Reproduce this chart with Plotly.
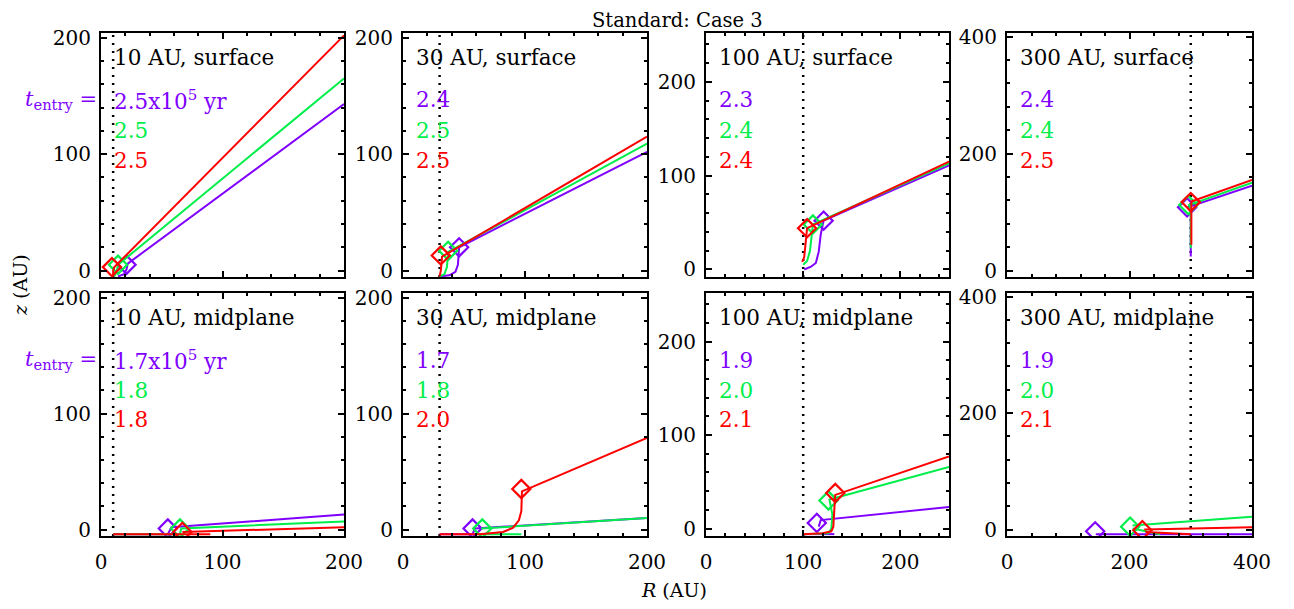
import plotly.graph_objects as go

# ---------------- data ----------------
R_ENTRY = [10, 30, 100, 300]

TITLES_SURF = ["10 AU, surface", "30 AU, surface", "100 AU, surface", "300 AU, surface"]
TITLES_MID = ["10 AU, midplane", "30 AU, midplane", "100 AU, midplane", "300 AU, midplane"]

T_SURF_PURPLE = ["2.5x10<sup>5</sup> yr", "2.4", "2.3", "2.4"]
T_SURF_GREEN = ["2.5", "2.5", "2.4", "2.4"]
T_SURF_RED = ["2.5", "2.5", "2.4", "2.5"]
T_MID_PURPLE = ["1.7x10<sup>5</sup> yr", "1.7", "1.9", "1.9"]
T_MID_GREEN = ["1.8", "1.8", "2.0", "2.0"]
T_MID_RED = ["1.8", "2.0", "2.1", "2.1"]

# surface, 10 AU
s10_pu_R = [14, 19, 21, 22, 200]
s10_pu_z = [-5, -3, 1, 6, 143]
s10_pu_d = [21, 5]
s10_gr_R = [11, 13, 14, 200]
s10_gr_z = [-5, 0, 5, 165]
s10_gr_d = [14, 5]
s10_re_R = [10, 10, 11, 200]
s10_re_z = [-5, 0, 3, 202]
s10_re_d = [9, 3]

# surface, 30 AU
s30_pu_R = [30, 38, 43, 45, 46, 200]
s30_pu_z = [-5, -4, -1, 5, 20, 102]
s30_pu_d = [46, 20]
s30_gr_R = [30, 34, 36, 37, 200]
s30_gr_z = [-5, -3, 3, 16, 109]
s30_gr_d = [37, 17]
s30_re_R = [30, 31, 32, 200]
s30_re_z = [-5, 0, 12, 115]
s30_re_d = [31, 13]

# surface, 100 AU
s100_pu_R = [101, 108, 113, 116, 118, 121, 250]
s100_pu_z = [0, 3, 7, 19, 37, 52, 111]
s100_pu_d = [121, 52]
s100_gr_R = [100, 104, 107, 109, 110, 250]
s100_gr_z = [5, 9, 20, 40, 48, 113]
s100_gr_d = [110, 48]
s100_re_R = [99, 101, 102, 104, 250]
s100_re_z = [8, 13, 23, 44, 115]
s100_re_d = [104, 44]

# surface, 300 AU
s300_pu_R = [300, 300, 295, 400]
s300_pu_z = [24, 100, 108, 145]
s300_pu_d = [294, 108]
s300_gr_R = [300, 300, 297, 400]
s300_gr_z = [38, 102, 112, 150]
s300_gr_d = [296, 112]
s300_re_R = [301, 301, 301, 400]
s300_re_z = [44, 105, 118, 155]
s300_re_d = [300, 117]

# midplane, 10 AU
m10_pu_R = [10, 55, 58, 200]
m10_pu_z = [-4, -4, 2, 13]
m10_pu_d = [55, 1]
m10_gr_R = [10, 65, 66, 200]
m10_gr_z = [-4, -4, 1, 7]
m10_gr_d = [65, 1]
m10_re_R = [10, 90, None, 67, 200]
m10_re_z = [-4, -4, None, -2, 2]
m10_re_d = [67, -2]

# midplane, 30 AU
m30_pu_R = [30, 57, 59, 200]
m30_pu_z = [-4, -4, 1, 10]
m30_pu_d = [57, 1]
m30_gr_R = [62, 97, None, 64, 200]
m30_gr_z = [-4, -4, None, 1, 10]
m30_gr_d = [65, 1]
m30_re_R = [30, 63, 82, 90, 95, 97, 97.5, 200]
m30_re_z = [-4, -4, -2, 1.5, 8, 16, 33, 79]
m30_re_d = [97, 35]

# midplane, 100 AU
m100_pu_R = [100, 132, None, 116, 118, 250]
m100_pu_z = [-6, -6, None, 2, 9, 23]
m100_pu_d = [114, 6]
m100_gr_R = [100, 126, 129, 130, 127, 250]
m100_gr_z = [-6, -5, 0, 15, 31, 66]
m100_gr_d = [126, 30]
m100_re_R = [100, 120, 129, 131, 132, 133, 250]
m100_re_z = [-6, -5, -3, 2, 20, 36, 77]
m100_re_d = [133, 38]

# midplane, 300 AU
m300_pu_R = [145, 400]
m300_pu_z = [-8, -8]
m300_pu_d = [144, -3]
m300_gr_R = [250, 205, None, 205, 400]
m300_gr_z = [-8, 2, None, 7, 22]
m300_gr_d = [201, 5]
m300_re_R = [300, 226, None, 224, 400]
m300_re_z = [-8, -4, None, 0, 4]
m300_re_d = [221, -1]

X_RANGES = [[0, 200], [0, 200], [0, 250], [0, 400]]
Y_RANGES = [[-5.5, 204], [-5.5, 204], [-8, 252], [-11, 406]]
TICKS = [[0, 100, 200], [0, 100, 200], [0, 100, 200], [0, 200, 400]]
MINOR = [20, 20, 20, 40]

# ---------------- layout helpers ----------------
OFF = 8  # page body margin
W, H = 1294 - OFF, 609 - OFF
PANEL_X = [(101, 344), (403, 647), (706, 949), (1007, 1252)]
ROW_Y = [(33, 277), (293, 536)]
PURPLE, GREEN, RED = "#8000ff", "#00ee4a", "#ff0000"
FONT = "DejaVu Serif"


def px(p):
    return (p - OFF) / W


def py(p):
    return 1 - (p - OFF) / H


panels = [
    (0, 0, [(s10_pu_R, s10_pu_z, s10_pu_d), (s10_gr_R, s10_gr_z, s10_gr_d), (s10_re_R, s10_re_z, s10_re_d)]),
    (0, 1, [(s30_pu_R, s30_pu_z, s30_pu_d), (s30_gr_R, s30_gr_z, s30_gr_d), (s30_re_R, s30_re_z, s30_re_d)]),
    (0, 2, [(s100_pu_R, s100_pu_z, s100_pu_d), (s100_gr_R, s100_gr_z, s100_gr_d), (s100_re_R, s100_re_z, s100_re_d)]),
    (0, 3, [(s300_pu_R, s300_pu_z, s300_pu_d), (s300_gr_R, s300_gr_z, s300_gr_d), (s300_re_R, s300_re_z, s300_re_d)]),
    (1, 0, [(m10_pu_R, m10_pu_z, m10_pu_d), (m10_gr_R, m10_gr_z, m10_gr_d), (m10_re_R, m10_re_z, m10_re_d)]),
    (1, 1, [(m30_pu_R, m30_pu_z, m30_pu_d), (m30_gr_R, m30_gr_z, m30_gr_d), (m30_re_R, m30_re_z, m30_re_d)]),
    (1, 2, [(m100_pu_R, m100_pu_z, m100_pu_d), (m100_gr_R, m100_gr_z, m100_gr_d), (m100_re_R, m100_re_z, m100_re_d)]),
    (1, 3, [(m300_pu_R, m300_pu_z, m300_pu_d), (m300_gr_R, m300_gr_z, m300_gr_d), (m300_re_R, m300_re_z, m300_re_d)]),
]

fig = go.Figure()
layout = dict(
    width=W, height=H, margin=dict(l=0, r=0, t=0, b=0),
    paper_bgcolor="white", plot_bgcolor="white", showlegend=False,
    font=dict(family=FONT, size=20, color="black"),
)
annotations = []
colors = [PURPLE, GREEN, RED]

for idx, (row, col, trajs) in enumerate(panels):
    n = idx + 1
    xa = "x" if n == 1 else f"x{n}"
    ya = "y" if n == 1 else f"y{n}"
    xkey = "xaxis" if n == 1 else f"xaxis{n}"
    ykey = "yaxis" if n == 1 else f"yaxis{n}"
    x0, x1 = PANEL_X[col]
    y0, y1 = ROW_Y[row]
    yr = Y_RANGES[col]
    # dotted vertical line at entry radius
    fig.add_trace(go.Scatter(x=[R_ENTRY[col], R_ENTRY[col]], y=[yr[0], yr[1]], mode="lines",
                             line=dict(color="black", width=2.5, dash="2px,6px"),
                             xaxis=xa, yaxis=ya, hoverinfo="skip"))
    for (R, z, d), c in zip(trajs, colors):
        fig.add_trace(go.Scatter(x=R, y=z, mode="lines", line=dict(color=c, width=2),
                                 connectgaps=False, xaxis=xa, yaxis=ya))
        fig.add_trace(go.Scatter(x=[d[0]], y=[d[1]], mode="markers",
                                 marker=dict(symbol="diamond-open", size=14, color=c,
                                             line=dict(color=c, width=2.2)),
                                 xaxis=xa, yaxis=ya))
    common = dict(showline=True, linecolor="black", linewidth=2, mirror="allticks",
                  ticks="inside", ticklen=6, tickwidth=2, tickcolor="black",
                  showgrid=False, zeroline=False, automargin=False,
                  tickmode="array", tickvals=TICKS[col],
                  minor=dict(ticks="inside", ticklen=3, tickwidth=2, tickcolor="black",
                             dtick=MINOR[col], showgrid=False),
                  tickfont=dict(family=FONT, size=20, color="black"))
    layout[xkey] = dict(common, domain=[px(x0), px(x1)], range=X_RANGES[col], anchor=ya,
                        showticklabels=(row == 1), ticklabelstandoff=7)
    layout[ykey] = dict(common, domain=[py(y1), py(y0)], range=yr, anchor=xa,
                        ticklabelstandoff=4)

    titles = TITLES_SURF if row == 0 else TITLES_MID
    tp = T_SURF_PURPLE if row == 0 else T_MID_PURPLE
    tg = T_SURF_GREEN if row == 0 else T_MID_GREEN
    tr = T_SURF_RED if row == 0 else T_MID_RED
    for txt, off, c in [(titles[col], 24, "black"), (tp[col], 67, PURPLE),
                        (tg[col], 97, GREEN), (tr[col], 127, RED)]:
        annotations.append(dict(text=txt, x=px(x0 + 11), y=py(y0 + off), xref="paper", yref="paper",
                                xanchor="left", yanchor="middle", showarrow=False,
                                font=dict(family=FONT, size=21.5, color=c)))
    if col == 0:
        annotations.append(dict(text="<i>t</i><sub>entry</sub> =", x=px(99), y=py(y0 + 67),
                                xref="paper", yref="paper", xanchor="right", yanchor="middle",
                                showarrow=False, font=dict(family=FONT, size=21, color=PURPLE)))

annotations.append(dict(text="Standard: Case 3", x=px(677), y=1, xref="paper", yref="paper",
                        xanchor="center", yanchor="top", showarrow=False, borderpad=0,
                        font=dict(family=FONT, size=19.5, color="black")))
annotations.append(dict(text="<i>R</i> (AU)", x=px(674), y=py(590), xref="paper", yref="paper",
                        xanchor="center", yanchor="middle", showarrow=False,
                        font=dict(family=FONT, size=19, color="black")))
annotations.append(dict(text="<i>z</i> (AU)", x=0, y=py(285), xref="paper", yref="paper",
                        xanchor="left", yanchor="middle", showarrow=False, textangle=-90,
                        borderpad=0, font=dict(family=FONT, size=19, color="black")))

layout["annotations"] = annotations
fig.update_layout(**layout)
fig.write_html("out.html")
